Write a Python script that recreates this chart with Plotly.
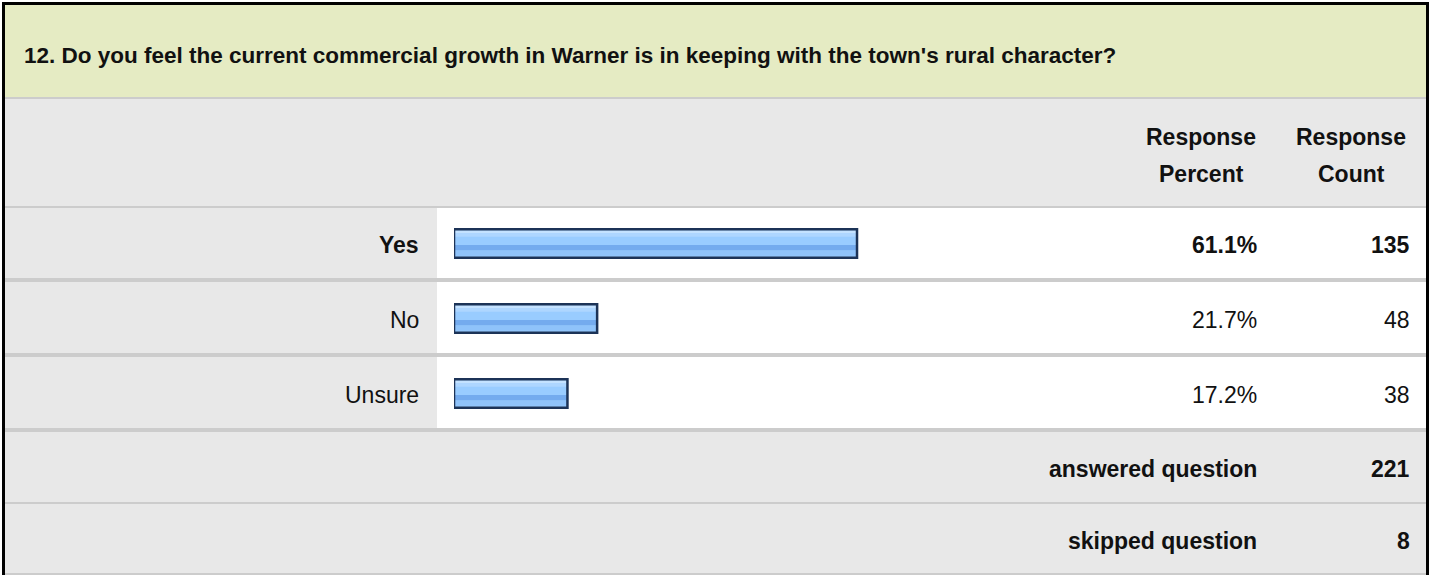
import plotly.graph_objects as go

# ---- data ----
question = "12. Do you feel the current commercial growth in Warner is in keeping with the town's rural character?"
categories = ["Yes", "No", "Unsure"]
percents = [61.1, 21.7, 17.2]
counts = [135, 48, 38]
answered = 221
skipped = 8

W, H = 1432, 575


def px(x):
    return x / W


def py(y):
    return 1 - y / H


FONT = "Liberation Sans, Arial, sans-serif"
GREY = "#e8e8e8"
SEP = "#cccccc"
GREEN = "#e5ebc3"

fig = go.Figure()

bar_w = 0.38
# base fill
fig.add_trace(go.Bar(y=categories, x=percents, orientation="h", width=bar_w,
                     marker=dict(color="#99ccff", line=dict(width=0)), hoverinfo="skip"))
# stripes
stripes = [(-0.175, 0.035, "#c4e2ff"), (-0.14, 0.05, "#aed6ff"),
           (0.02, 0.075, "#74abee"), (0.095, 0.07, "#8fc3fa")]
for off, wd, col in stripes:
    fig.add_trace(go.Bar(y=categories, x=percents, orientation="h",
                         width=[wd] * len(categories), offset=[off] * len(categories),
                         marker=dict(color=col, line=dict(width=0)), hoverinfo="skip"))
# outline
fig.add_trace(go.Bar(y=categories, x=percents, orientation="h", width=bar_w,
                     marker=dict(color="rgba(0,0,0,0)", line=dict(width=2.5, color="#1c3357")),
                     hoverinfo="skip"))

shapes = []


def rect(x0, y0, x1, y1, color):
    shapes.append(dict(type="rect", xref="paper", yref="paper", layer="below",
                       x0=px(x0), x1=px(x1), y0=py(y1), y1=py(y0),
                       fillcolor=color, line=dict(width=0)))


L, R = 5, 1426
# header band
rect(L, 5, R, 97, GREEN)
rect(L, 97, R, 99, SEP)
rect(L, 99, R, 206, GREY)
rect(L, 206, R, 208, SEP)
# data rows
rows = [(208, 278, 282), (282, 353, 357), (357, 428, 432)]
for (t, b, s) in rows:
    rect(L, t, 437, b, GREY)
    rect(437, t, R, b, "#ffffff")
    rect(L, b, R, s, SEP)
# footer rows
rect(L, 432, R, 502, GREY)
rect(L, 502, R, 504, SEP)
rect(L, 504, R, 573, GREY)
rect(L, 573, R, 575, SEP)
# outer frame
rect(2, 2, 1429, 5, "#000000")
rect(2, 2, 5, 575, "#000000")
rect(1426, 2, 1429, 575, "#000000")

ann = []


def text(x, y, s, anchor="right", bold=False, size=23, color="#111111"):
    ann.append(dict(xref="paper", yref="paper", x=px(x), y=py(y), text=(f"<b>{s}</b>" if bold else s),
                    xanchor=anchor, yanchor="middle", showarrow=False,
                    font=dict(family=FONT, size=size, color=color)))


text(22, 55, question, anchor="left", bold=True, size=22.5)
text(1201, 137, "Response", anchor="center", bold=True)
text(1201, 174, "Percent", anchor="center", bold=True)
text(1351, 137, "Response", anchor="center", bold=True)
text(1351, 174, "Count", anchor="center", bold=True)

row_text_y = [245, 320, 395]
for i, (c, p, n) in enumerate(zip(categories, percents, counts)):
    bold = i == 0
    text(421, row_text_y[i], c, bold=bold)
    text(1259, row_text_y[i], f"{p:.1f}%", bold=bold)
    text(1412, row_text_y[i], str(n), bold=bold)

text(1259, 469, "answered question", bold=True)
text(1412, 469, str(answered), bold=True)
text(1259, 541, "skipped question", bold=True)
text(1412, 541, str(skipped), bold=True)

fig.update_layout(
    width=W, height=H, margin=dict(l=0, r=0, t=0, b=0),
    paper_bgcolor="#ffffff", plot_bgcolor="rgba(0,0,0,0)",
    barmode="overlay", showlegend=False, shapes=shapes, annotations=ann,
    xaxis=dict(domain=[px(454), px(1113.6)], range=[0, 100], visible=False, fixedrange=True),
    yaxis=dict(domain=[py(431), py(206)], range=[2.5, -0.5], type="category",
               categoryorder="array", categoryarray=categories, visible=False, fixedrange=True),
)

fig.write_html("out.html", config={"displayModeBar": False},
               post_script="document.body.style.margin='0';document.body.style.overflow='hidden';")
